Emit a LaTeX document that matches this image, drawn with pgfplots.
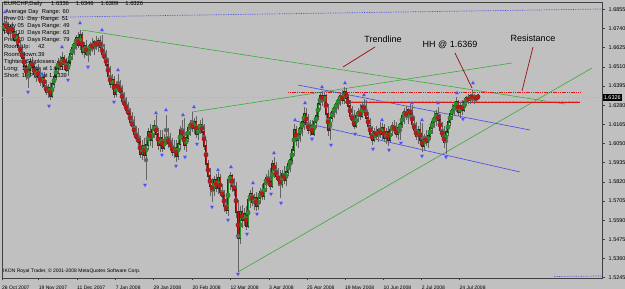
\documentclass[border=0pt]{standalone}
\usepackage{pgfplots}
\usepackage{pgfplotstable}
\usepackage{fontspec}
\setmainfont{Liberation Sans}
\pgfplotsset{compat=1.18}
\definecolor{bg}{RGB}{192,192,192}
\definecolor{bull}{RGB}{40,145,40}
\definecolor{bear}{RGB}{185,25,25}
\definecolor{edge}{RGB}{45,45,45}
\definecolor{wick}{RGB}{100,100,100}
\definecolor{fractal}{RGB}{70,70,250}
\definecolor{tline}{RGB}{60,170,60}
\definecolor{chan}{RGB}{70,70,235}
\definecolor{resist}{RGB}{225,20,20}
\definecolor{annot}{RGB}{150,10,10}
\definecolor{bid}{RGB}{165,195,170}
\newcommand\infofont{\fontsize{5.8}{6}\selectfont}
\pgfplotstableread{
x o h l c
4 1.6731 1.6791 1.6707 1.6767
6 1.6767 1.6809 1.6731 1.6743
8 1.6743 1.6779 1.6695 1.6713
10 1.6713 1.6761 1.6683 1.6749
12 1.6749 1.6779 1.6701 1.6719
14 1.6719 1.6749 1.6659 1.6671
16 1.6671 1.6731 1.6641 1.6701
18 1.6701 1.6713 1.6611 1.6629
20 1.6629 1.6671 1.6581 1.6599
22 1.6599 1.6641 1.6539 1.6563
24 1.6563 1.6599 1.6491 1.6515
26 1.6515 1.6551 1.6431 1.6455
28 1.6455 1.6521 1.6383 1.6491
30 1.6491 1.6563 1.6461 1.6539
32 1.6539 1.6569 1.6491 1.6509
34 1.6509 1.6539 1.6443 1.6467
36 1.6467 1.6515 1.6419 1.6491
38 1.6491 1.6527 1.6431 1.6449
40 1.6449 1.6491 1.6395 1.6419
42 1.6419 1.6467 1.6383 1.6443
44 1.6443 1.6479 1.6371 1.6395
46 1.6395 1.6431 1.6341 1.6359
48 1.6359 1.6407 1.6323 1.6383
50 1.6383 1.6419 1.6311 1.6335
52 1.6335 1.6431 1.6323 1.6407
54 1.6407 1.6467 1.6383 1.6449
56 1.6449 1.6521 1.6431 1.6503
58 1.6503 1.6563 1.6467 1.6539
60 1.6539 1.6575 1.6491 1.6515
62 1.6515 1.6599 1.6491 1.6563
64 1.6563 1.6581 1.6503 1.6527
66 1.6527 1.6563 1.6479 1.6491
68 1.6491 1.6551 1.6455 1.6533
70 1.6533 1.6611 1.6515 1.6587
72 1.6587 1.6647 1.6551 1.6623
74 1.6623 1.6671 1.6581 1.6647
76 1.6647 1.6701 1.6611 1.6683
78 1.6683 1.6719 1.6623 1.6641
80 1.6641 1.6731 1.6611 1.6701
82 1.6701 1.6719 1.6581 1.6599
84 1.6599 1.6659 1.6563 1.6635
86 1.6635 1.6671 1.6575 1.6587
88 1.6587 1.6641 1.6539 1.6611
90 1.6611 1.6659 1.6575 1.6641
92 1.6641 1.6683 1.6599 1.6623
94 1.6623 1.6671 1.6581 1.6659
96 1.6659 1.6695 1.6611 1.6635
98 1.6635 1.6683 1.6599 1.6665
100 1.6665 1.6695 1.6611 1.6629
102 1.6629 1.6701 1.6575 1.6587
104 1.6587 1.6647 1.6539 1.6563
106 1.6563 1.6611 1.6503 1.6521
108 1.6521 1.6563 1.6431 1.6455
110 1.6455 1.6515 1.6383 1.6407
112 1.6407 1.6467 1.6371 1.6431
114 1.6431 1.6455 1.6323 1.6347
116 1.6347 1.6419 1.6329 1.6401
118 1.6401 1.6467 1.6359 1.6383
120 1.6383 1.6431 1.6335 1.6359
122 1.6359 1.6401 1.6287 1.6305
124 1.6305 1.6359 1.6263 1.6281
126 1.6281 1.6329 1.6227 1.6251
128 1.6251 1.6299 1.6203 1.6227
130 1.6227 1.6263 1.6155 1.6179
132 1.6179 1.6239 1.6131 1.6155
134 1.6155 1.6215 1.6083 1.6107
136 1.6107 1.6155 1.6059 1.6083
138 1.6083 1.6143 1.6035 1.6059
140 1.6059 1.6095 1.5963 1.5987
142 1.5987 1.6071 1.5951 1.6035
144 1.6035 1.6083 1.5963 1.5981
146 1.5981 1.6071 1.5831 1.6041
148 1.6041 1.6143 1.6011 1.6119
150 1.6119 1.6167 1.6035 1.6071
152 1.6071 1.6161 1.6023 1.6131
154 1.6131 1.6191 1.6083 1.6155
156 1.6155 1.6221 1.6071 1.6107
158 1.6107 1.6143 1.6011 1.6041
160 1.6041 1.6131 1.5999 1.6083
162 1.6083 1.6131 1.5999 1.6023
164 1.6023 1.6107 1.6011 1.6071
166 1.6071 1.6221 1.6041 1.6083
168 1.6083 1.6143 1.6023 1.6053
170 1.6053 1.6113 1.6011 1.6035
172 1.6035 1.6083 1.5975 1.5999
174 1.5999 1.6071 1.5963 1.6023
176 1.6023 1.6071 1.5939 1.5975
178 1.5975 1.6071 1.5951 1.6047
180 1.6047 1.6155 1.6011 1.6131
182 1.6131 1.6191 1.6071 1.6101
184 1.6101 1.6203 1.6011 1.6041
186 1.6041 1.6119 1.5999 1.6083
188 1.6083 1.6167 1.6059 1.6143
190 1.6143 1.6191 1.6095 1.6167
192 1.6167 1.6239 1.6119 1.6143
194 1.6143 1.6203 1.6107 1.6179
196 1.6179 1.6215 1.6083 1.6107
198 1.6107 1.6167 1.6071 1.6143
200 1.6143 1.6191 1.6107 1.6161
202 1.6161 1.6203 1.6095 1.6119
204 1.6119 1.6167 1.6011 1.6035
206 1.6035 1.6071 1.5903 1.5927
208 1.5927 1.5951 1.5831 1.5855
210 1.5855 1.5903 1.5735 1.5795
212 1.5795 1.5843 1.5699 1.5771
214 1.5771 1.5855 1.5735 1.5831
216 1.5831 1.5867 1.5759 1.5783
218 1.5783 1.5879 1.5747 1.5843
220 1.5843 1.5867 1.5735 1.5759
222 1.5759 1.5807 1.5711 1.5735
224 1.5735 1.5771 1.5639 1.5675
226 1.5675 1.5723 1.5627 1.5651
228 1.5651 1.5855 1.5615 1.5831
230 1.5831 1.5879 1.5771 1.5855
232 1.5855 1.5867 1.5759 1.5795
234 1.5795 1.5843 1.5735 1.5771
236 1.5771 1.5819 1.5603 1.5639
238 1.5639 1.5711 1.5279 1.5483
240 1.5483 1.5675 1.5447 1.5639
242 1.5639 1.5681 1.5543 1.5591
244 1.5591 1.5663 1.5555 1.5627
246 1.5627 1.5675 1.5531 1.5555
248 1.5555 1.5735 1.5543 1.5711
250 1.5711 1.5771 1.5663 1.5747
252 1.5747 1.5789 1.5675 1.5699
254 1.5699 1.5747 1.5651 1.5723
256 1.5723 1.5759 1.5645 1.5675
258 1.5675 1.5735 1.5651 1.5723
260 1.5723 1.5783 1.5687 1.5759
262 1.5759 1.5807 1.5711 1.5735
264 1.5735 1.5831 1.5711 1.5807
266 1.5807 1.5867 1.5759 1.5843
268 1.5843 1.5891 1.5795 1.5819
270 1.5819 1.5903 1.5771 1.5795
272 1.5795 1.5951 1.5783 1.5927
274 1.5927 1.5969 1.5843 1.5891
276 1.5891 1.5939 1.5831 1.5855
278 1.5855 1.5903 1.5795 1.5831
280 1.5831 1.5891 1.5723 1.5807
282 1.5807 1.5891 1.5783 1.5867
284 1.5867 1.5915 1.5807 1.5831
286 1.5831 1.5903 1.5795 1.5879
288 1.5879 1.5951 1.5855 1.5927
290 1.5927 1.5975 1.5879 1.5951
292 1.5951 1.6035 1.5927 1.6011
294 1.6011 1.6167 1.5975 1.6131
296 1.6131 1.6155 1.6035 1.6071
298 1.6071 1.6143 1.6023 1.6107
300 1.6107 1.6179 1.6059 1.6143
302 1.6143 1.6215 1.6095 1.6179
304 1.6179 1.6269 1.6131 1.6227
306 1.6227 1.6263 1.6143 1.6167
308 1.6167 1.6227 1.6107 1.6131
310 1.6131 1.6191 1.6095 1.6155
312 1.6155 1.6191 1.6101 1.6107
314 1.6107 1.6203 1.6095 1.6179
316 1.6179 1.6239 1.6143 1.6215
318 1.6215 1.6311 1.6191 1.6287
320 1.6287 1.6359 1.6251 1.6335
322 1.6335 1.6365 1.6275 1.6311
324 1.6311 1.6359 1.6263 1.6335
326 1.6335 1.6347 1.6203 1.6227
328 1.6227 1.6287 1.6095 1.6131
330 1.6131 1.6239 1.6071 1.6203
332 1.6203 1.6263 1.6179 1.6239
334 1.6239 1.6287 1.6203 1.6263
336 1.6263 1.6311 1.6227 1.6287
338 1.6287 1.6335 1.6251 1.6311
340 1.6311 1.6359 1.6275 1.6335
342 1.6335 1.6371 1.6287 1.6311
344 1.6311 1.6389 1.6287 1.6359
346 1.6359 1.6383 1.6299 1.6323
348 1.6323 1.6347 1.6251 1.6275
350 1.6275 1.6311 1.6191 1.6215
352 1.6215 1.6275 1.6155 1.6191
354 1.6191 1.6251 1.6137 1.6155
356 1.6155 1.6239 1.6143 1.6215
358 1.6215 1.6263 1.6179 1.6239
360 1.6239 1.6287 1.6191 1.6215
362 1.6215 1.6299 1.6203 1.6275
364 1.6275 1.6317 1.6227 1.6251
366 1.6251 1.6311 1.6179 1.6203
368 1.6203 1.6239 1.6131 1.6155
370 1.6155 1.6203 1.6083 1.6107
372 1.6107 1.6155 1.6041 1.6071
374 1.6071 1.6143 1.6059 1.6119
376 1.6119 1.6155 1.6071 1.6095
378 1.6095 1.6143 1.6059 1.6131
380 1.6131 1.6179 1.6083 1.6107
382 1.6107 1.6173 1.6071 1.6143
384 1.6143 1.6167 1.6059 1.6083
386 1.6083 1.6143 1.6047 1.6119
388 1.6119 1.6155 1.6035 1.6071
390 1.6071 1.6143 1.6059 1.6131
392 1.6131 1.6179 1.6095 1.6155
394 1.6155 1.6191 1.6107 1.6131
396 1.6131 1.6179 1.6083 1.6107
398 1.6107 1.6167 1.6071 1.6143
400 1.6143 1.6191 1.6071 1.6167
402 1.6167 1.6239 1.6143 1.6215
404 1.6215 1.6263 1.6167 1.6239
406 1.6239 1.6275 1.6191 1.6215
408 1.6215 1.6263 1.6167 1.6251
410 1.6251 1.6287 1.6203 1.6227
412 1.6227 1.6281 1.6143 1.6167
414 1.6167 1.6215 1.6107 1.6131
416 1.6131 1.6179 1.6071 1.6095
418 1.6095 1.6155 1.6047 1.6131
420 1.6131 1.6179 1.6035 1.6071
422 1.6071 1.6173 1.5999 1.6035
424 1.6035 1.6107 1.6011 1.6083
426 1.6083 1.6131 1.6035 1.6059
428 1.6059 1.6119 1.6023 1.6095
430 1.6095 1.6167 1.6071 1.6143
432 1.6143 1.6203 1.6107 1.6179
434 1.6179 1.6239 1.6143 1.6203
436 1.6203 1.6251 1.6155 1.6227
438 1.6227 1.6269 1.6167 1.6191
440 1.6191 1.6227 1.6107 1.6131
442 1.6131 1.6179 1.6071 1.6095
444 1.6095 1.6155 1.6023 1.6059
446 1.6059 1.6143 1.5987 1.6119
448 1.6119 1.6203 1.6095 1.6179
450 1.6179 1.6251 1.6155 1.6227
452 1.6227 1.6287 1.6191 1.6251
454 1.6251 1.6299 1.6215 1.6275
456 1.6275 1.6329 1.6239 1.6299
458 1.6299 1.6311 1.6215 1.6239
460 1.6239 1.6299 1.6203 1.6275
462 1.6275 1.6311 1.6221 1.6251
464 1.6251 1.6323 1.6239 1.6299
466 1.6299 1.6335 1.6275 1.6323
468 1.6323 1.6347 1.6287 1.6311
470 1.6311 1.6347 1.6287 1.6335
472 1.6335 1.6369 1.6299 1.6323
474 1.6323 1.6347 1.6287 1.6335
476 1.6335 1.6341 1.6299 1.6311
478 1.6336 1.6346 1.6309 1.6326
}\candles
\pgfplotstableread{
x y
5 1.6839
42 1.6467
62 1.6629
80 1.6773
102 1.6731
118 1.6491
156 1.6233
166 1.6251
183 1.6221
194 1.6269
218 1.5891
231 1.5909
253 1.5813
274 1.5993
295 1.6191
305 1.6293
322 1.6389
345 1.6413
364 1.6341
382 1.6191
412 1.6293
422 1.6191
438 1.6293
457 1.6353
473 1.6413
}\upfr
\pgfplotstableread{
x y
28 1.6359
49 1.6275
68 1.6431
88 1.6509
114 1.6299
145 1.5801
162 1.5981
176 1.5915
185 1.5969
197 1.6047
212 1.5669
228 1.5591
238 1.5267
247 1.5507
257 1.5627
271 1.5747
281 1.5693
312 1.6077
331 1.6041
355 1.6107
373 1.6017
389 1.6011
401 1.6053
422 1.5975
446 1.5969
463 1.6197
}\dnfr
\begin{document}
\begin{tikzpicture}
\useasboundingbox (-2pt,-11.17pt) rectangle (623pt,277.83pt);
\fill[bg] (-2pt,-11.17pt) rectangle (623pt,277.83pt);
\begin{axis}[
  scale only axis, width=600pt, height=275.83pt,
  xmin=2, xmax=602, ymin=1.5244, ymax=1.6899,
  clip=false,
  axis line style={draw=black!75, line width=0.6pt},
  xtick={2,38.7,77,115.6,153.4,192.5,230.4,269,307,345,383.4,421.7,459.5},
  xticklabels={26 Oct 2007,19 Nov 2007,11 Dec 2007,7 Jan 2008,29 Jan 2008,20 Feb 2008,12 Mar 2008,3 Apr 2008,25 Apr 2008,19 May 2008,10 Jun 2008,2 Jul 2008,24 Jul 2008},
  ytick={1.5245,1.5360,1.5475,1.5590,1.5705,1.5820,1.5935,1.6050,1.6165,1.6280,1.6395,1.6510,1.6625,1.6740,1.6855},
  yticklabels={1.5245,1.5360,1.5475,1.5590,1.5705,1.5820,1.5935,1.6050,1.6165,1.6280,1.6395,1.6510,1.6625,1.6740,1.6855},
  xtick pos=left, ytick pos=right, yticklabel pos=right,
  tick align=outside, major tick length=2.5pt,
  tick style={draw=black!75, line width=0.5pt},
  xticklabel style={font=\fontsize{5}{6}\selectfont, anchor=north west, inner sep=0pt, yshift=-5pt},
  yticklabel style={font=\fontsize{5.5}{6}\selectfont, anchor=west, inner sep=0pt, xshift=4pt},
]
% bid line
\addplot[bid, densely dashed, line width=0.5pt] coordinates {(2,1.6326) (602,1.6326)};
% blue dotted range lines
\addplot[chan, densely dotted, line width=0.7pt] coordinates {(2,1.6803) (602,1.6857)};
\addplot[chan, densely dotted, line width=0.7pt] coordinates {(554,1.5252) (602,1.5255)};
% trend lines
\addplot[tline, line width=0.6pt] coordinates {(82,1.6731) (565,1.6287)};
\addplot[tline, line width=0.6pt] coordinates {(192,1.6239) (512,1.6533)};
\addplot[tline, line width=0.6pt] coordinates {(238,1.5279) (592,1.6503)};
% channel
\addplot[chan, line width=0.6pt] coordinates {(298,1.6401) (530,1.6131)};
\addplot[chan, line width=0.6pt] coordinates {(296,1.6185) (520,1.5879)};
% resistance lines
\addplot[resist, line width=1.1pt, dash pattern=on 1.2pt off 0.6pt] coordinates {(288,1.6356) (580,1.6356)};
\addplot[resist!60, line width=0.4pt, densely dotted] coordinates {(345,1.6305) (580,1.6305)};
\addplot[resist, line width=0.9pt] coordinates {(345,1.6296) (580,1.6296)};
% wicks
\addplot[color=wick, only marks, mark=none, forget plot,
  error bars/.cd, y dir=both, y explicit, error mark=none,
  error bar style={color=wick, line width=0.4pt}]
  table[x=x, y expr={(\thisrow{h}+\thisrow{l})/2}, y error expr={(\thisrow{h}-\thisrow{l})/2}] {\candles};
% body edges (all candles)
\addplot[color=edge, only marks, mark=none, forget plot,
  error bars/.cd, y dir=both, y explicit, error mark=none,
  error bar style={color=edge, line width=1.7pt, line cap=rect}]
  table[x=x, y expr={(\thisrow{o}+\thisrow{c})/2}, y error expr={abs(\thisrow{c}-\thisrow{o})/2}] {\candles};
% bull bodies
\addplot[color=bull, only marks, mark=none, forget plot,
  restrict expr to domain={\thisrow{c}-\thisrow{o}}{0:1},
  error bars/.cd, y dir=both, y explicit, error mark=none,
  error bar style={color=bull, line width=1.0pt}]
  table[x=x, y expr={(\thisrow{o}+\thisrow{c})/2}, y error expr={abs(\thisrow{c}-\thisrow{o})/2}] {\candles};
% bear bodies
\addplot[color=bear, only marks, mark=none, forget plot,
  restrict expr to domain={\thisrow{o}-\thisrow{c}}{0.00001:1},
  error bars/.cd, y dir=both, y explicit, error mark=none,
  error bar style={color=bear, line width=1.0pt}]
  table[x=x, y expr={(\thisrow{o}+\thisrow{c})/2}, y error expr={abs(\thisrow{c}-\thisrow{o})/2}] {\candles};
% fractals
\addplot[only marks, mark=triangle*, mark size=2.1pt, mark options={fill=fractal, draw=fractal!70!white, line width=0.3pt}] table {\upfr};
\addplot[only marks, mark=triangle*, mark size=2.1pt, mark options={fill=fractal, draw=fractal!70!white, line width=0.3pt, rotate=180}] table {\dnfr};
% annotation pointers
\addplot[annot, line width=0.7pt] coordinates {(375,1.6629) (343,1.6509)};
\addplot[annot, line width=0.7pt] coordinates {(455,1.6593) (472,1.6383)};
\addplot[annot, line width=0.7pt] coordinates {(533,1.6629) (522,1.6365)};
\node[font=\fontsize{9}{10}\selectfont, inner sep=0pt] at (axis cs:383,1.6677) {Trendline};
\node[font=\fontsize{9}{10}\selectfont, inner sep=0pt] at (axis cs:450,1.6641) {HH @ 1.6369};
\node[font=\fontsize{9}{10}\selectfont, inner sep=0pt] at (axis cs:533,1.6683) {Resistance};
% info text
\node[anchor=west, inner sep=0pt, font=\infofont] at (axis cs:4,1.6884) {EURCHF,Daily\hspace{9pt}1.6336\hspace{7pt}1.6346\hspace{7pt}1.6309\hspace{7pt}1.6326};
\node[anchor=west, inner sep=0pt, font=\infofont] at (axis cs:5,1.6841) {Average Day\ \ Range: 60};
\node[anchor=west, inner sep=0pt, font=\infofont] at (axis cs:4,1.6798) {Prev 01\ \ Day\ \ Range: 51};
\node[anchor=west, inner sep=0pt, font=\infofont] at (axis cs:4,1.6755) {Prev 05\ \ Days Range: 49};
\node[anchor=west, inner sep=0pt, font=\infofont] at (axis cs:4,1.6712) {Prev 10\ \ Days Range: 63};
\node[anchor=west, inner sep=0pt, font=\infofont] at (axis cs:4,1.6670) {Prev 20\ \ Days Range: 79};
\node[anchor=west, inner sep=0pt, font=\infofont] at (axis cs:4,1.6627) {\makebox[34pt][l]{Room Up:}42};
\node[anchor=west, inner sep=0pt, font=\infofont] at (axis cs:4,1.6584) {\makebox[34pt][l]{Room Down:}39};
\node[anchor=west, inner sep=0pt, font=\infofont] at (axis cs:4,1.6541) {Tightest Stoplosses: short};
\node[anchor=west, inner sep=0pt, font=\infofont] at (axis cs:4,1.6498) {Long:\ \ 14 Pips at 1.6312};
\node[anchor=west, inner sep=0pt, font=\infofont] at (axis cs:4,1.6455) {Short: 13 Pips at 1.6339};
\node[anchor=west, inner sep=0pt, font=\fontsize{5}{6}\selectfont] at (axis cs:3,1.5285) {IKON Royal Trader, © 2001-2008 MetaQuotes Software Corp.};
% current price box
\node[anchor=west, fill=black, text=white, inner xsep=1.2pt, inner ysep=1.2pt, font=\fontsize{5.5}{6}\selectfont] at (axis cs:602.5,1.6326) {1.6326};
\end{axis}
\end{tikzpicture}
\end{document}
